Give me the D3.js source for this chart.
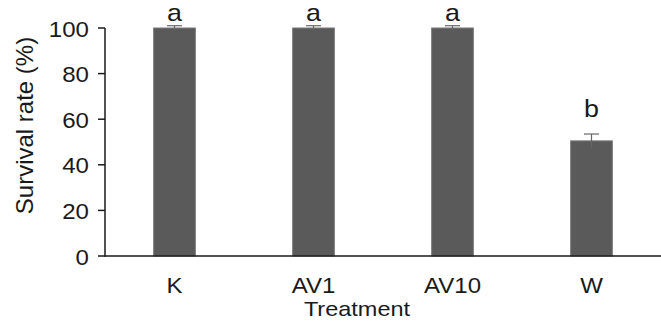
<!DOCTYPE html>
<html><head><meta charset="utf-8">
<script src="https://cdn.jsdelivr.net/npm/d3@7"></script>
<style>body{margin:0;background:#fff}svg{display:block}text{font-family:"Liberation Sans",Arial,sans-serif;fill:#1a1a1a}</style>
</head><body>
<script>
const categories = ["K","AV1","AV10","W"];
const values = [100,100,100,50.5];
const errors = [1,1,1,3];
const letters = ["a","a","a","b"];
const yTicks = [0,20,40,60,80,100];

const W = 661, H = 325;
const svg = d3.select("body").append("svg").attr("width",W).attr("height",H);
const x = d3.scaleBand().domain(categories).range([105,661]).padding(0);
const y = d3.scaleLinear().domain([0,100]).range([256,28]);
const bw = x.bandwidth()*0.30;
const sx = 1.12;

function stretched(sel, cx, cy){ sel.attr("transform",`translate(${cx},${cy}) scale(${sx},1)`); }

// bars
svg.selectAll("rect.bar").data(categories).enter().append("rect")
  .attr("x", d=>x(d)+x.bandwidth()/2-bw/2)
  .attr("width", bw)
  .attr("y", (d,i)=>y(values[i]))
  .attr("height", (d,i)=>y(0)-y(values[i]))
  .attr("fill","#5a5a5a").attr("stroke","#7a7a7a").attr("stroke-width",1);

// error bars
categories.forEach((c,i)=>{
  const cx = x(c)+x.bandwidth()/2;
  const g = svg.append("g").attr("stroke","#666").attr("stroke-width",1.2);
  g.append("line").attr("x1",cx).attr("x2",cx).attr("y1",y(values[i]+errors[i])).attr("y2",y(values[i]-errors[i]));
  g.append("line").attr("x1",cx-7.5).attr("x2",cx+7.5).attr("y1",y(values[i]+errors[i])).attr("y2",y(values[i]+errors[i]));
});

// letters
categories.forEach((c,i)=>{
  const cx = x(c)+x.bandwidth()/2;
  const t = svg.append("text").text(letters[i]).attr("text-anchor","middle").attr("font-size",24);
  stretched(t, cx, Math.max(y(values[i]+errors[i]) - 17, 21));
});

// axes
const ax = svg.append("g");
ax.append("line").attr("x1",105).attr("x2",661).attr("y1",y(0)).attr("y2",y(0)).attr("stroke","#1a1a1a").attr("stroke-width",1.5);
ax.append("line").attr("x1",105).attr("x2",105).attr("y1",y(0)+0.75).attr("y2",y(100)).attr("stroke","#1a1a1a").attr("stroke-width",1.5);
yTicks.forEach(v=>{
  ax.append("line").attr("x1",98).attr("x2",105).attr("y1",y(v)).attr("y2",y(v)).attr("stroke","#1a1a1a").attr("stroke-width",1.5);
  const t = ax.append("text").text(v).attr("text-anchor","end").attr("dominant-baseline","central").attr("font-size",21.5);
  stretched(t, 89, y(v)+1);
});
categories.forEach(c=>{
  const t = ax.append("text").text(c).attr("text-anchor","middle").attr("font-size",21.5);
  stretched(t, x(c)+x.bandwidth()/2, 293);
});
const xt = svg.append("text").text("Treatment").attr("text-anchor","middle").attr("font-size",21);
stretched(xt, 357, 316);
svg.append("text").text("Survival rate (%)").attr("text-anchor","middle").attr("font-size",24)
  .attr("transform",`translate(33,${(33+218)/2}) rotate(-90)`).attr("fill","#333");
</script>
</body></html>
